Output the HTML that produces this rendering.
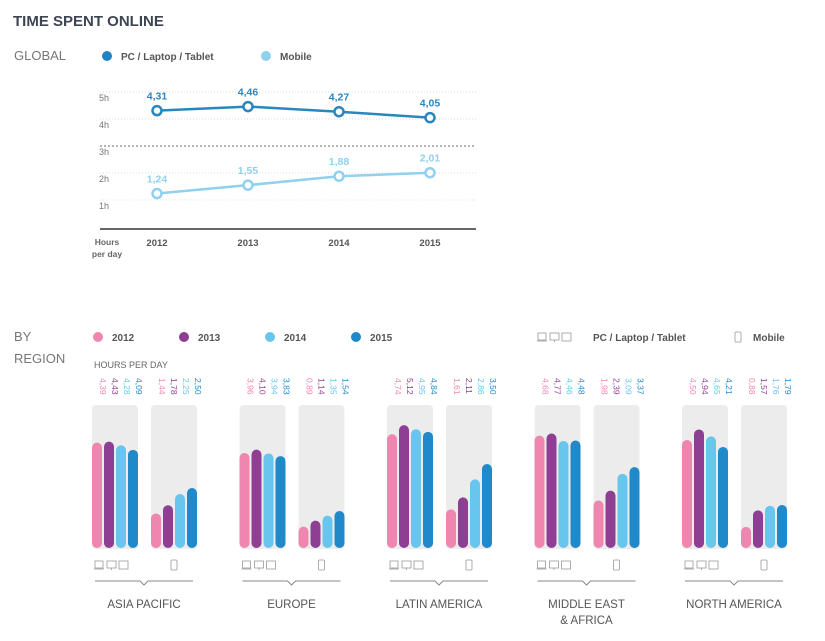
<!DOCTYPE html>
<html><head><meta charset="utf-8">
<style>
body{margin:0;background:#fff;font-family:"Liberation Sans",sans-serif;}
svg text{font-family:"Liberation Sans",sans-serif;}
</style></head>
<body>
<svg id="c" width="825" height="636" viewBox="0 0 825 636">
<text x="13" y="26" font-size="15" font-weight="bold" fill="#3d4452">TIME SPENT ONLINE</text>
<text x="14" y="60" font-size="13" fill="#777">GLOBAL</text>
<circle cx="107" cy="56" r="5" fill="#2182c4"/>
<text x="121" y="60" font-size="10" font-weight="bold" fill="#555">PC / Laptop / Tablet</text>
<circle cx="266" cy="56" r="5" fill="#8fd1ef"/>
<text x="280" y="60" font-size="10" font-weight="bold" fill="#555">Mobile</text>
<g id="topchart"></g>
<text x="14" y="341" font-size="13" fill="#777">BY</text>
<text x="14" y="363" font-size="13" fill="#777">REGION</text>
<text x="94" y="368" font-size="9" fill="#666">HOURS PER DAY</text>
<g id="leg"></g>
<g id="reg"></g>
</svg>
<script>
const years=["2012","2013","2014","2015"];
const pcGlobal=[4.31,4.46,4.27,4.05];
const mobileGlobal=[1.24,1.55,1.88,2.01];
const yTicks=[1,2,3,4,5];
const regions=["ASIA PACIFIC","EUROPE","LATIN AMERICA","MIDDLE EAST","NORTH AMERICA"];
const regionSub=["","","","& AFRICA",""];
const pcRegion=[[4.39,4.43,4.28,4.09],[3.96,4.10,3.94,3.83],[4.74,5.12,4.95,4.84],[4.68,4.77,4.46,4.48],[4.50,4.94,4.65,4.21]];
const mobileRegion=[[1.44,1.78,2.25,2.50],[0.89,1.14,1.35,1.54],[1.61,2.11,2.86,3.50],[1.98,2.39,3.09,3.37],[0.88,1.57,1.76,1.79]];
const colors=["#ee86b0","#8e3f94","#68c6ee","#2089c9"];
const NS="http://www.w3.org/2000/svg";
function mk(p,t,a,txt){const e=document.createElementNS(NS,t);for(const k in a)e.setAttribute(k,a[k]);if(txt!=null)e.textContent=txt;p.appendChild(e);return e;}
const fmt=v=>v.toFixed(2).replace('.',',');
const topG=document.getElementById('topchart');
const xT=i=>157+i*91, yT=v=>227-27*v;
yTicks.forEach(t=>{
  const l=mk(topG,'line',{x1:100,x2:476,y1:yT(t),y2:yT(t),stroke:t==3?'#888':'#ddd','stroke-dasharray':t==3?'2,2':'1,2','stroke-width':t==3?1.2:1});
  
  
  const tx=mk(topG,'text',{x:99,y:yT(t)+9,'font-size':9,fill:'#777'},t+'h');
  
  
});
const ax=mk(topG,'line',{x1:100,x2:476,y1:229,y2:229,stroke:'#666','stroke-width':2});


years.forEach((y,i)=>{const t=mk(topG,'text',{x:xT(i),y:246,'font-size':9.5,'font-weight':'bold',fill:'#555','text-anchor':'middle'},y);

});
let h=mk(topG,'text',{x:107,y:245,'font-size':8.5,'font-weight':'bold',fill:'#666','text-anchor':'middle'},'Hours');


h=mk(topG,'text',{x:107,y:257,'font-size':8.5,'font-weight':'bold',fill:'#666','text-anchor':'middle'},'per day');


[[pcGlobal,'#2a86bf','pc'],[mobileGlobal,'#8fd1ef','mobile']].forEach(([arr,c,n])=>{
  const pl=mk(topG,'polyline',{points:arr.map((v,i)=>xT(i)+','+yT(v)).join(' '),fill:'none',stroke:c,'stroke-width':2.5});
  
  
  arr.forEach((v,i)=>{
    const p=mk(topG,'circle',{cx:xT(i),cy:yT(v),r:4.5,fill:'#fff',stroke:c,'stroke-width':2.5});
    
    
    const t=mk(topG,'text',{x:xT(i),y:yT(v)-11,'font-size':10.5,'font-weight':'bold',fill:c,'text-anchor':'middle'},fmt(v));
    
    
  });
});
const leg=document.getElementById('leg');
years.forEach((y,i)=>{const x=98+i*86;
  const c=mk(leg,'circle',{cx:x,cy:337,r:5,fill:colors[i]});
  
  
  const t=mk(leg,'text',{x:x+14,y:341,'font-size':10,'font-weight':'bold',fill:'#555'},y);
  
  });
function pcIcon(g,x,y){mk(g,'rect',{x:x,y:y,width:8,height:7,fill:'none',stroke:'#999','stroke-width':0.8});mk(g,'line',{x1:x-1,x2:x+9,y1:y+8,y2:y+8,stroke:'#999','stroke-width':0.8});
mk(g,'rect',{x:x+12,y:y,width:9,height:7,fill:'none',stroke:'#999','stroke-width':0.8});mk(g,'line',{x1:x+16.5,x2:x+16.5,y1:y+7,y2:y+9,stroke:'#999','stroke-width':0.8});
mk(g,'rect',{x:x+24,y:y,width:9,height:8,fill:'none',stroke:'#999','stroke-width':0.8});}
function mobIcon(g,x,y){mk(g,'rect',{x:x,y:y-1,width:6,height:10,rx:1,fill:'none',stroke:'#999','stroke-width':0.8});}
let ig=mk(leg,'g',{});


pcIcon(ig,538,333);
let lt=mk(leg,'text',{x:593,y:341,'font-size':10,'font-weight':'bold',fill:'#555'},'PC / Laptop / Tablet');


ig=mk(leg,'g',{});


mobIcon(ig,735,333);
lt=mk(leg,'text',{x:753,y:341,'font-size':10,'font-weight':'bold',fill:'#555'},'Mobile');


const reg=document.getElementById('reg');
const base=548, sc=24;
regions.forEach((r,ri)=>{
  const gx=92+ri*147.5;
  const g=mk(reg,'g',{});
  
  
  [[pcRegion[ri],gx,'pc'],[mobileRegion[ri],gx+59,'mobile']].forEach(([arr,px,n])=>{
    const bg=mk(g,'rect',{x:px,y:405,width:46,height:144,rx:4,fill:'#ececec'});
    
    
    arr.forEach((v,i)=>{
      const bx=px+i*12, hh=v*sc;
      const b=mk(g,'rect',{x:bx,y:base-hh,width:10,height:hh,rx:5,fill:colors[i]});
      
      
      const t=mk(g,'text',{x:0,y:0,'font-size':8.5,fill:colors[i],transform:`translate(${bx+8},378) rotate(90)`},fmt(v));
      
      
    });
  });
  const ic=mk(g,'g',{});
  
  
  pcIcon(ic,gx+3,561);
  const im=mk(g,'g',{});
  
  
  mobIcon(im,gx+79,561);
  const cx=gx+52;
  const br=mk(g,'polyline',{points:`${gx+3},581 ${cx-4},581 ${cx},585 ${cx+4},581 ${gx+101},581`,fill:'none',stroke:'#888','stroke-width':1});
  
  
  const t=mk(g,'text',{x:cx,y:608,'font-size':11.5,fill:'#555','text-anchor':'middle'},r);
  
  
  if(regionSub[ri]){const t2=mk(g,'text',{x:cx,y:624,'font-size':11.5,fill:'#555','text-anchor':'middle'},regionSub[ri]);
  
  }
});
</script>
</body></html>
